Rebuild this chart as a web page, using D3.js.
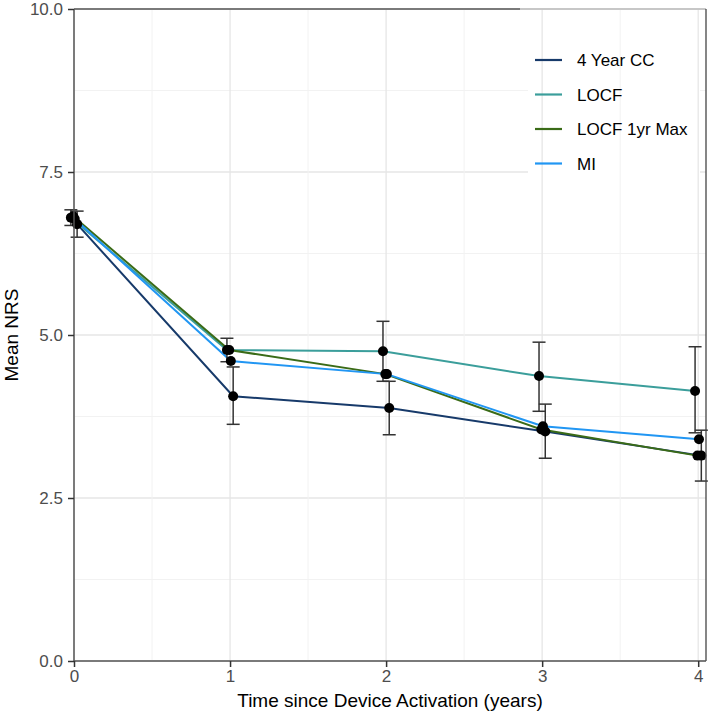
<!DOCTYPE html>
<html><head><meta charset="utf-8">
<script src="https://cdn.jsdelivr.net/npm/d3@7"></script>
<style>body{margin:0;background:#fff}svg{display:block;font-family:"Liberation Sans",Arial,sans-serif}</style>
</head><body><svg id="c" width="709" height="716"></svg>
<script>
const times = [0, 1, 2, 3, 4];
const seriesNames = ["4 Year CC", "LOCF", "LOCF 1yr Max", "MI"];
const seriesColors = ["#173a6a", "#3b9e9b", "#3a6b17", "#2196f3"];
const dodge = [0.02, -0.02, -0.005, 0.005];
const cc4Values = [6.70, 4.06, 3.88, 3.52, 3.15];
const locfValues = [6.80, 4.77, 4.75, 4.37, 4.14];
const locf1yrValues = [6.82, 4.77, 4.40, 3.55, 3.15];
const miValues = [6.78, 4.60, 4.40, 3.60, 3.40];
const cc4Lower = [6.50, 3.63, 3.47, 3.11, 2.76];
const cc4Upper = [6.90, 4.51, 4.29, 3.94, 3.54];
const locfLower = [6.68, 4.59, 4.29, 3.83, 3.50];
const locfUpper = [6.92, 4.95, 5.21, 4.89, 4.82];
const yTicks = [0, 2.5, 5, 7.5, 10];
const yMinor = [1.25, 3.75, 6.25, 8.75];
const xTicks = [0, 1, 2, 3, 4];
const xMinor = [0.5, 1.5, 2.5, 3.5];

const values = [cc4Values, locfValues, locf1yrValues, miValues];
const errs = [{s:0, lo:cc4Lower, hi:cc4Upper}, {s:1, lo:locfLower, hi:locfUpper}];

const L = 74, R = 706, T = 9, B = 661;
const x = d3.scaleLinear().domain([0, 4.05]).range([L, R]);
const y = d3.scaleLinear().domain([0, 10]).range([B, T]);
const svg = d3.select("#c");

// grid
svg.append("g").selectAll("line").data(yMinor).join("line")
  .attr("x1", L).attr("x2", R).attr("y1", d=>y(d)).attr("y2", d=>y(d))
  .attr("stroke", "#f2f2f2").attr("stroke-width", 1);
svg.append("g").selectAll("line").data(yTicks).join("line")
  .attr("x1", L).attr("x2", R).attr("y1", d=>y(d)).attr("y2", d=>y(d))
  .attr("stroke", "#e6e6e6").attr("stroke-width", 1.3);
svg.append("rect").attr("x", 528).attr("y", 32).attr("width", 172).attr("height", 150).attr("fill", "#fff");
svg.append("g").selectAll("line").data(xMinor).join("line")
  .attr("y1", T).attr("y2", B).attr("x1", d=>x(d)).attr("x2", d=>x(d))
  .attr("stroke", "#f2f2f2").attr("stroke-width", 1);
svg.append("g").selectAll("line").data(xTicks).join("line")
  .attr("y1", T).attr("y2", B).attr("x1", d=>x(d)).attr("x2", d=>x(d))
  .attr("stroke", "#e6e6e6").attr("stroke-width", 1.3);

// lines
const line = d3.line().x(d=>x(d[0])).y(d=>y(d[1]));
values.forEach((vals, i) => {
  svg.append("path").datum(times.map((t, j) => [t + dodge[i], vals[j]]))
    .attr("d", line).attr("fill", "none").attr("stroke", seriesColors[i]).attr("stroke-width", 2);
});
// error bars
errs.forEach(e => {
  const g = svg.append("g").attr("stroke", "#333").attr("stroke-width", 1.5);
  times.forEach((t, j) => {
    const cx = x(t + dodge[e.s]);
    g.append("line").attr("x1", cx).attr("x2", cx).attr("y1", y(e.lo[j])).attr("y2", y(e.hi[j]));
    g.append("line").attr("x1", cx-6.5).attr("x2", cx+6.5).attr("y1", y(e.lo[j])).attr("y2", y(e.lo[j]));
    g.append("line").attr("x1", cx-6.5).attr("x2", cx+6.5).attr("y1", y(e.hi[j])).attr("y2", y(e.hi[j]));
  });
});
// points
values.forEach((vals, i) => {
  svg.append("g").selectAll("circle").data(times.map((t, j) => [t + dodge[i], vals[j]])).join("circle")
    .attr("cx", d=>x(d[0])).attr("cy", d=>y(d[1])).attr("r", 5).attr("fill", "#000");
});

// border
svg.append("line").attr("x1", L).attr("x2", 520).attr("y1", T).attr("y2", T).attr("stroke", "#555").attr("stroke-width", 1.3);
svg.append("line").attr("x1", 520).attr("x2", R).attr("y1", T).attr("y2", T).attr("stroke", "#bbb").attr("stroke-width", 1.3);
svg.append("line").attr("x1", R).attr("x2", R).attr("y1", T).attr("y2", B).attr("stroke", "#444").attr("stroke-width", 1.3);

// axes
const yAxis = svg.append("g").attr("transform", `translate(${L},0)`)
  .call(d3.axisLeft(y).tickValues(yTicks).tickFormat(d3.format(".1f")).tickSize(6).tickPadding(5));
const xAxis = svg.append("g").attr("transform", `translate(0,${B})`)
  .call(d3.axisBottom(x).tickValues(xTicks).tickFormat(d3.format("d")).tickSize(6).tickPadding(3));
[yAxis, xAxis].forEach(a => {
  a.select(".domain").attr("stroke", "#555").attr("stroke-width", 1.5);
  a.selectAll(".tick line").attr("stroke", "#333").attr("stroke-width", 1.5);
  a.selectAll(".tick text").attr("fill", "#4d4d4d").style("font-size", "17px").style("font-family", "Liberation Sans, Arial, sans-serif");
});
yAxis.select(".domain").attr("d", `M0,${B}V${T}`);
xAxis.select(".domain").attr("d", `M${L},0H${R}`);

svg.append("text").attr("x", 390).attr("y", 707).attr("text-anchor", "middle")
  .style("font-size", "19px").attr("fill", "#000").text("Time since Device Activation (years)");
svg.append("text").attr("transform", "translate(18,335) rotate(-90)").attr("text-anchor", "middle")
  .style("font-size", "19px").attr("fill", "#000").text("Mean NRS");

// legend
const lg = svg.append("g");
seriesNames.forEach((n, i) => {
  const yy = 60 + i * 34.5;
  lg.append("line").attr("x1", 535).attr("x2", 562).attr("y1", yy).attr("y2", yy)
    .attr("stroke", seriesColors[i]).attr("stroke-width", 2.2);
  lg.append("text").attr("x", 577).attr("y", yy + 6).style("font-size", "17px").attr("fill", "#000").text(n);
});
</script></body></html>
